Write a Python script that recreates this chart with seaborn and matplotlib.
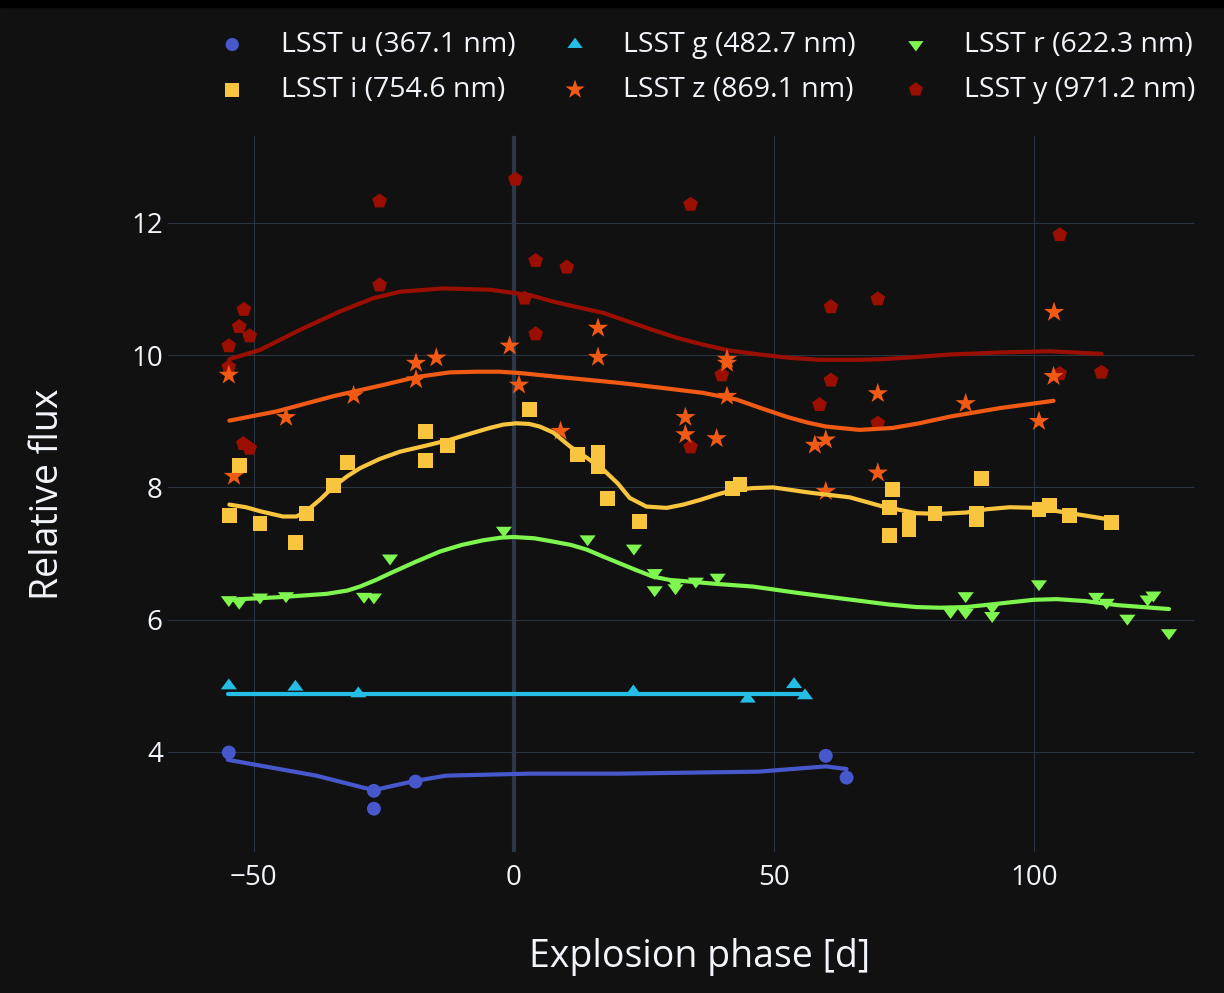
import pandas as pd
import matplotlib.pyplot as plt
import seaborn as sns
from matplotlib.patches import Rectangle

# BAND INFO
band_labels = ['LSST u (367.1 nm)', 'LSST g (482.7 nm)', 'LSST r (622.3 nm)',
               'LSST i (754.6 nm)', 'LSST z (869.1 nm)', 'LSST y (971.2 nm)']
band_colors = ['#4757cc', '#23bde6', '#7ff54f', '#f9c53f', '#f05a15', '#9a0f02']

# MEASURED POINTS (explosion phase in days, relative flux)
u_phase = [-54.8, -26.9, -26.9, -18.9, 60.0, 64.0]
u_flux = [3.99, 3.41, 3.14, 3.55, 3.94, 3.61]

g_phase = [-54.8, -42.0, -29.9, 23.0, 45.0, 53.9, 56.0]
g_flux = [5.00, 4.98, 4.88, 4.91, 4.80, 5.02, 4.85]

r_phase = [-54.8, -52.8, -48.8, -43.8, -28.8, -26.9, -23.8, -1.9, 14.2, 23.1,
           27.1, 27.1, 31.1, 31.1, 35.0, 39.2, 84.0, 86.9, 86.9, 92.0, 92.0,
           101.0, 112.0, 114.0, 118.0, 121.9, 123.0, 126.0]
r_flux = [6.30, 6.26, 6.34, 6.36, 6.35, 6.34, 6.93, 7.35, 7.22, 7.08,
          6.71, 6.45, 6.55, 6.48, 6.58, 6.64, 6.12, 6.36, 6.11, 6.19, 6.06,
          6.54, 6.35, 6.26, 6.02, 6.31, 6.37, 5.80]

i_phase = [-54.7, -52.8, -48.8, -41.9, -39.8, -34.7, -31.9, -16.9, -16.9, -12.8,
           3.1, 12.2, 16.2, 16.2, 18.1, 24.1, 42.0, 43.5, 72.9, 72.2, 72.2,
           76.0, 76.0, 81.0, 89.9, 89.0, 89.0, 101.0, 103.0, 106.9, 115.0]
i_flux = [7.57, 8.33, 7.46, 7.17, 7.61, 8.03, 8.37, 8.85, 8.41, 8.64,
          9.18, 8.50, 8.53, 8.32, 7.83, 7.49, 7.99, 8.04, 7.97, 7.69, 7.27,
          7.50, 7.37, 7.61, 8.13, 7.61, 7.52, 7.67, 7.72, 7.58, 7.47]

z_phase = [-54.8, -53.8, -43.8, -30.8, -18.8, -18.8, -14.9, -0.8, 1.0, 9.0,
           16.2, 16.2, 33.0, 33.0, 39.0, 41.0, 41.0, 41.0, 57.9, 60.0, 60.0,
           70.0, 70.0, 86.9, 101.0, 103.8, 103.9]
z_flux = [9.70, 8.17, 9.06, 9.39, 9.88, 9.63, 9.96, 10.14, 9.55, 8.85,
          10.41, 9.97, 9.06, 8.80, 8.74, 9.94, 9.88, 9.38, 8.64, 8.72, 7.94,
          9.42, 8.22, 9.27, 9.00, 9.68, 10.65]

y_phase = [-54.8, -54.8, -52.8, -52.0, -51.9, -50.8, -50.8, -25.8, -25.8, 0.3,
           2.1, 4.2, 4.2, 10.2, 34.0, 34.0, 40.0, 58.8, 61.0, 61.0, 70.0, 70.0,
           105.0, 105.0, 113.0]
y_flux = [10.14, 9.82, 10.43, 8.66, 10.69, 10.29, 8.59, 12.33, 11.06, 12.66,
          10.86, 11.43, 10.32, 11.33, 12.28, 8.61, 9.70, 9.25, 10.73, 9.62, 10.85, 8.97,
          11.82, 9.72, 9.74]

# SMOOTHED LIGHT CURVES
u_curve_phase = [-55, -38, -27, -19, -13, 3, 20, 47, 60, 64]
u_curve_flux = [3.88, 3.64, 3.42, 3.56, 3.64, 3.67, 3.67, 3.70, 3.78, 3.74]

g_curve_phase = [-55, 0, 56]
g_curve_flux = [4.87, 4.87, 4.87]

r_curve_phase = [-55, -45, -36, -32, -29.6, -26.5, -23.8, -19, -14.2, -10, -5.9, -2.5,
                 0, 4, 7.6, 11, 14, 17, 20.4, 23.5, 26.8, 30, 33.2, 39, 46, 55, 65,
                 72, 77.4, 82, 87, 93, 100, 104.4, 110, 116, 126]
r_curve_flux = [6.30, 6.34, 6.39, 6.44, 6.50, 6.60, 6.70, 6.87, 7.03, 7.13, 7.20, 7.24,
                7.25, 7.23, 7.18, 7.13, 7.06, 6.96, 6.85, 6.75, 6.65, 6.60, 6.58, 6.54,
                6.50, 6.40, 6.30, 6.23, 6.19, 6.18, 6.19, 6.24, 6.30, 6.31, 6.28, 6.22,
                6.16]

i_curve_phase = [-54.7, -51.5, -48.8, -44.4, -41.8, -39.9, -37.2, -34.7, -32, -29.6,
                 -25.8, -21.9, -17, -12.3, -8.5, -4.6, -2, 0.5, 3, 5, 7.6, 10.8, 14,
                 17.2, 20, 22.3, 25.5, 29.4, 32.6, 35.8, 39, 42.2, 46, 49.9, 57, 64.6,
                 71, 77.4, 82, 87, 91, 95.4, 100.5, 107, 115]
i_curve_flux = [7.74, 7.70, 7.64, 7.56, 7.56, 7.64, 7.82, 8.01, 8.17, 8.29,
                8.43, 8.54, 8.63, 8.72, 8.81, 8.90, 8.95, 8.97, 8.96, 8.92, 8.83, 8.62, 8.45,
                8.27, 8.06, 7.84, 7.71, 7.69, 7.74, 7.81, 7.89, 7.96, 7.99, 8.00, 7.92, 7.85,
                7.71, 7.61, 7.60, 7.62, 7.67, 7.70, 7.69, 7.61, 7.51]

z_curve_phase = [-54.7, -45.6, -34.7, -25.1, -18.7, -12.3, -7, -2.7, 1.2, 10, 20.4,
                 28, 36.4, 42.8, 47.5, 52.4, 56.5, 60.1, 66.5, 72.9, 78, 83.8, 93.5,
                 103.8]
z_curve_flux = [9.01, 9.15, 9.38, 9.55, 9.67, 9.74, 9.75, 9.75, 9.73, 9.66, 9.58,
                9.51, 9.43, 9.33, 9.20, 9.07, 8.98, 8.92, 8.87, 8.90, 8.97, 9.07, 9.20,
                9.31]

y_curve_phase = [-54.7, -48.8, -41.2, -33.5, -27.1, -21.9, -13.6, -4.6, 3.1, 7.6,
                 12, 17.2, 22, 26.8, 31.5, 36.4, 41.5, 47.3, 53, 58.8, 66.5, 71, 77,
                 83.8, 93, 103, 113]
y_curve_flux = [9.94, 10.08, 10.38, 10.66, 10.86, 10.96, 11.01, 10.99, 10.91, 10.81,
                10.73, 10.64, 10.51, 10.38, 10.26, 10.16, 10.07, 10.01, 9.96, 9.93, 9.93,
                9.94, 9.97, 10.01, 10.04, 10.06, 10.02]

points = [(u_phase, u_flux), (g_phase, g_flux), (r_phase, r_flux),
          (i_phase, i_flux), (z_phase, z_flux), (y_phase, y_flux)]
curves = [(u_curve_phase, u_curve_flux), (g_curve_phase, g_curve_flux),
          (r_curve_phase, r_curve_flux), (i_curve_phase, i_curve_flux),
          (z_curve_phase, z_curve_flux), (y_curve_phase, y_curve_flux)]

# MARKER SHAPES (plotly-like wide triangles)
tri_up = [(-1, -0.45), (1, -0.45), (0, 0.9)]
tri_down = [(-1, 0.45), (1, 0.45), (0, -0.9)]
markers = ['o', tri_up, tri_down, 's', '*', 'p']
sizes = [100, 135, 135, 115, 235, 125]

# STYLE
bg = '#111111'
fg = '#f2f5fa'
sns.set_theme(style='darkgrid', rc={
    'figure.facecolor': bg,
    'axes.facecolor': bg,
    'axes.edgecolor': bg,
    'grid.color': '#283442',
    'grid.linewidth': 0.8,
    'text.color': fg,
    'axes.labelcolor': fg,
    'xtick.color': fg,
    'ytick.color': fg,
})
plt.rcParams['font.family'] = ['Open Sans', 'DejaVu Sans']

fig = plt.figure(figsize=(12.24, 9.93), dpi=100)
ax = fig.add_axes([0.1364, 0.1410, 0.8399, 0.7230])

ax.axvline(0, color='#2c3747', lw=3, zorder=1)

for k in range(6):
    base = 2 + 2 * (5 - k)
    cx, cy = curves[k]
    sns.lineplot(x=cx, y=cy, color=band_colors[k], lw=3, sort=False,
                 legend=False, ax=ax, zorder=base)
    px, py = points[k]
    df = pd.DataFrame({'phase': px, 'flux': py})
    sns.scatterplot(data=df, x='phase', y='flux', color=band_colors[k],
                    marker=markers[k], s=sizes[k], linewidth=0, edgecolor='none',
                    label=band_labels[k], legend=False, ax=ax, zorder=base + 1)

ax.set_xlim(-66.7, 131.0)
ax.set_ylim(2.47, 13.33)
ax.set_xticks([-50, 0, 50, 100])
ax.set_yticks([4, 6, 8, 10, 12])
ax.tick_params(length=0, labelsize=20)
ax.tick_params(axis='x', pad=8)
ax.tick_params(axis='y', pad=3)
ax.set_xlabel('Explosion phase [d]', fontsize=27, labelpad=33)
ax.xaxis.label.set_x(0.5185)
ax.set_ylabel('Relative flux', fontsize=27, labelpad=46)

handles, labels = ax.get_legend_handles_labels()
order = [0, 3, 1, 4, 2, 5]
fig.legend([handles[j] for j in order], [labels[j] for j in order],
           ncol=3, loc='upper left', bbox_to_anchor=(218 / 1224, 1 - 31 / 993),
           frameon=False, fontsize=20.5, handlelength=1.0, handletextpad=1.2,
           columnspacing=1.6, labelspacing=0.6, borderpad=0, borderaxespad=0,
           markerscale=0.95)

fig.patches.append(Rectangle((0, 1 - 7 / 993), 1, 7 / 993, transform=fig.transFigure,
                             color='black', zorder=0))

plt.savefig('out.png', dpi=100, facecolor=bg)
